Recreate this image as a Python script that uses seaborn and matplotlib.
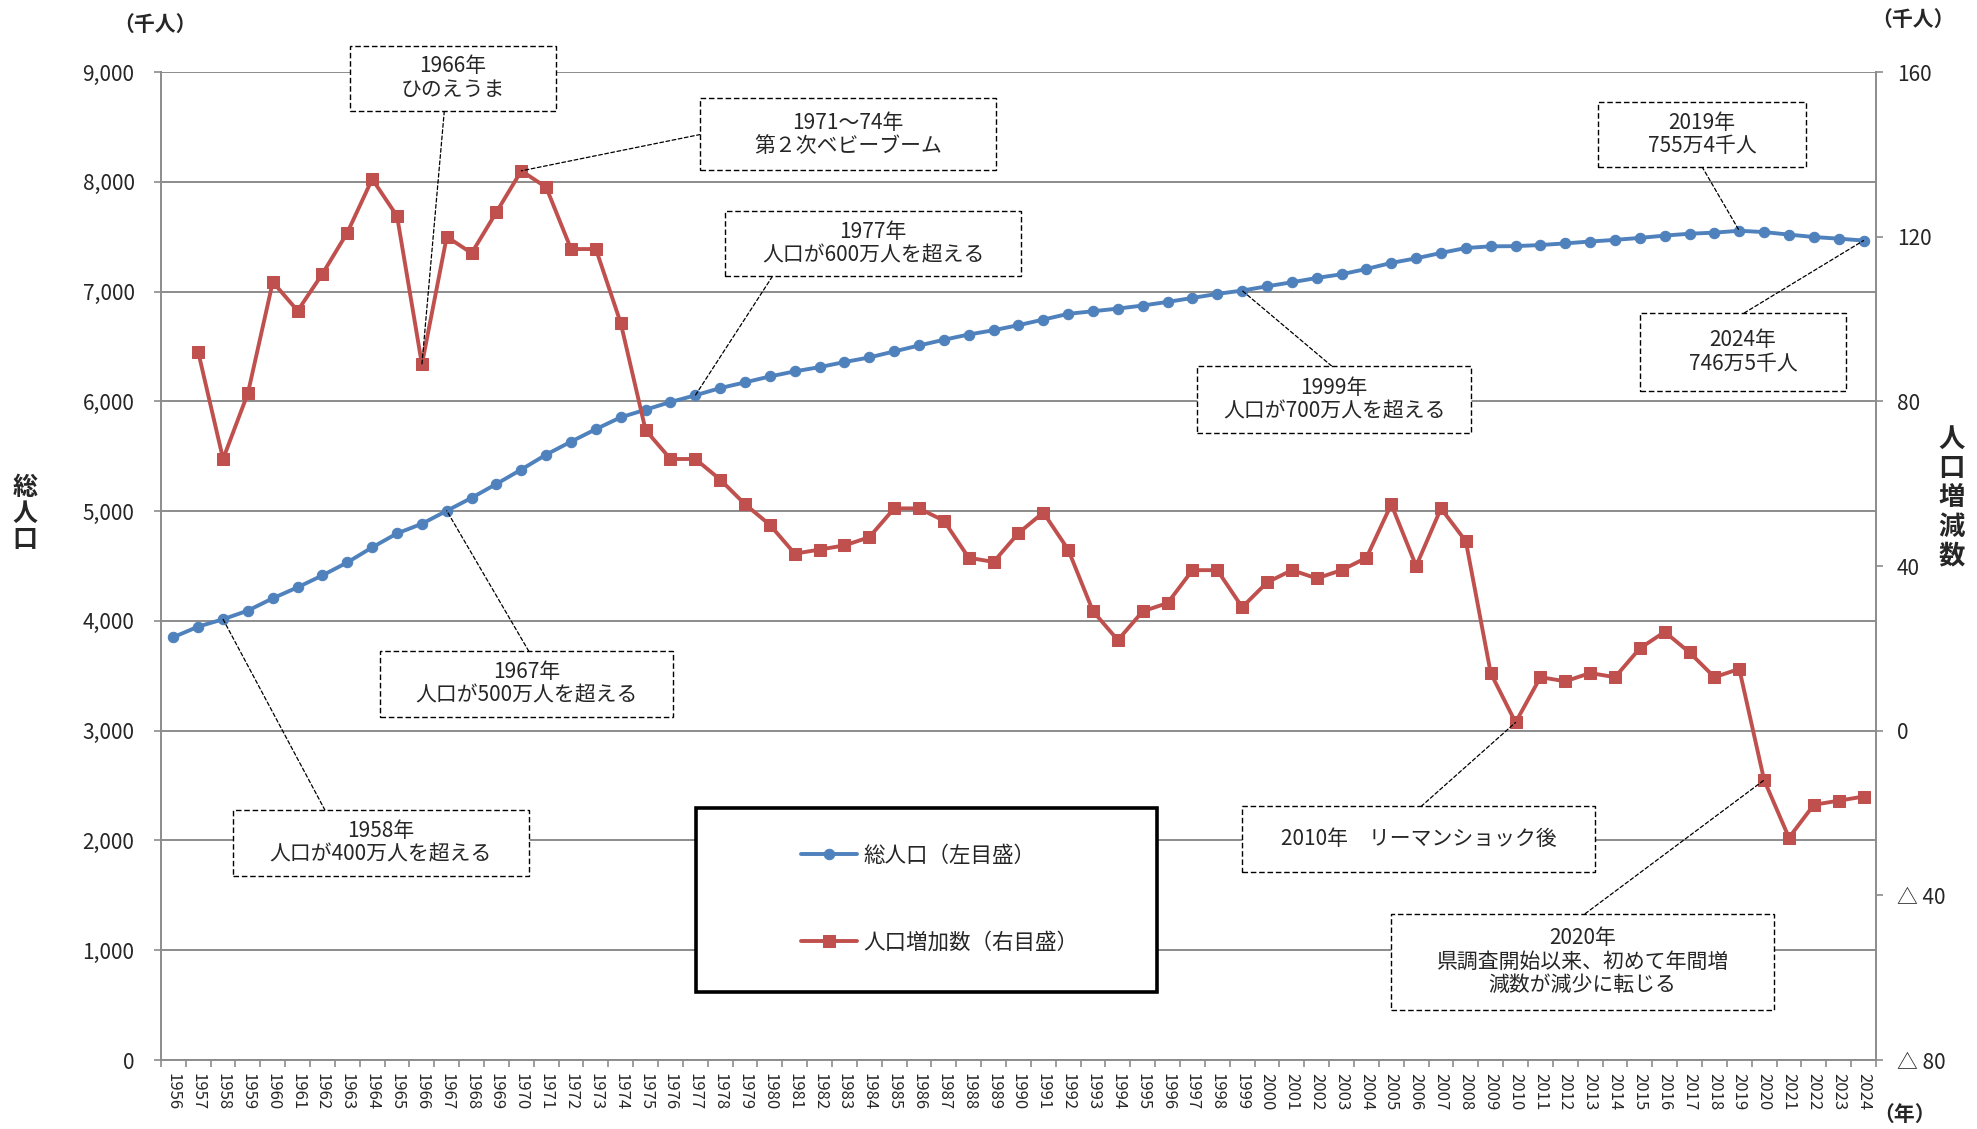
import numpy as np
import pandas as pd
import matplotlib
matplotlib.use('Agg')
import matplotlib.pyplot as plt
import seaborn as sns
from matplotlib.patches import Rectangle
from matplotlib.ticker import FuncFormatter

# =====================================
# DATA
# =====================================

years = list(range(1956, 2025))

# 総人口 (千人, 左目盛)
total_pop = [
    3852, 3948, 4015, 4094, 4206, 4306, 4415, 4533, 4670, 4797,
    4885, 5003, 5121, 5248, 5379, 5515, 5633, 5747, 5855,
    5924, 5994, 6055, 6121, 6173, 6227, 6273, 6312, 6358, 6400,
    6455, 6509, 6561, 6609, 6648, 6694, 6745, 6797, 6821, 6845,
    6873, 6906, 6942, 6979, 7009, 7048, 7085, 7124, 7158, 7206,
    7261, 7303, 7352, 7397, 7412, 7414, 7424, 7439, 7456, 7471,
    7489, 7510, 7527, 7537, 7554, 7542, 7519, 7497, 7482, 7465,
]

# 人口増加数 (千人, 右目盛) 1956 はデータなし
pop_change = [
    np.nan, 92, 66, 82, 109, 102, 111, 121, 134, 125,
    89, 120, 116, 126, 136, 132, 117, 117, 99,
    73, 66, 66, 61, 55, 50, 43, 44, 45, 47,
    54, 54, 51, 42, 41, 48, 53, 44, 29, 22,
    29, 31, 39, 39, 30, 36, 39, 37, 39, 42,
    55, 40, 54, 46, 14, 2, 13, 12, 14, 13,
    20, 24, 19, 13, 15, -12, -26, -18, -17, -16,
]

series_labels = ['総人口（左目盛）', '人口増加数（右目盛）']

# text, box (x0, x1, y0, y1) in left-axis data, leader start, target year, series
notes = [
    ('1966年\nひのえうま', (7.1, 15.4, 8644, 9241), (10.9, 8644), 1966, 'change'),
    ('1971～74年\n第２次ベビーブーム', (21.2, 33.1, 8103, 8759), (21.2, 8431), 1970, 'change'),
    ('1977年\n人口が600万人を超える', (22.2, 34.1, 7138, 7736), (24.1, 7138), 1977, 'total'),
    ('2019年\n755万4千人', (57.3, 65.7, 8138, 8724), (61.5, 8138), 2019, 'total'),
    ('2024年\n746万5千人', (59.0, 67.3, 6092, 6805), (63.2, 6805), 2024, 'total'),
    ('1999年\n人口が700万人を超える', (41.2, 52.2, 5713, 6322), (46.6, 6322), 1999, 'total'),
    ('1967年\n人口が500万人を超える', (8.3, 20.1, 3126, 3724), (14.3, 3724), 1967, 'total'),
    ('1958年\n人口が400万人を超える', (2.4, 14.3, 1678, 2276), (6.1, 2276), 1958, 'total'),
    ('2010年　リーマンショック後', (43.0, 57.2, 1713, 2310), (50.2, 2310), 2010, 'change'),
    ('2020年\n県調査開始以来、初めて年間増\n減数が減少に転じる', (49.0, 64.4, 460, 1333), (56.8, 1333), 2020, 'change'),
]

BLUE = '#4F81BD'
RED = '#C0504D'
GRID = '#8C8C8C'

df = pd.DataFrame({'pos': np.arange(len(years)), 'total': total_pop, 'change': pop_change})

# =====================================
# PLOT
# =====================================

sns.set_style('white')
plt.rcParams['font.family'] = ['Noto Sans CJK JP', 'DejaVu Sans']

fig = plt.figure(figsize=(19.77, 11.29), dpi=100)
ax = fig.add_axes([0.0814, 0.0611, 0.8675, 0.8751])
ax2 = ax.twinx()

sns.lineplot(data=df, x='pos', y='total', ax=ax, color=BLUE, linewidth=2.8,
             marker='o', markersize=7.5, markeredgecolor=BLUE, legend=False)
sns.lineplot(data=df.dropna(), x='pos', y='change', ax=ax2, color=RED, linewidth=2.8,
             marker='s', markersize=8, markeredgecolor=RED, legend=False)

ax.set_xlim(-0.5, len(years) - 0.5)
ax.set_ylim(0, 9000)
ax2.set_ylim(-80, 160)
ax.set_xlabel('')
ax.set_ylabel('')
ax2.set_ylabel('')

# x axis
ax.set_xticks(df['pos'])
ax.set_xticklabels([str(y) for y in years], rotation=-90, fontsize=12)
ax.set_xticks(np.arange(-0.5, len(years), 1), minor=True)
ax.tick_params(axis='x', which='major', length=0, pad=9)
ax.tick_params(axis='x', which='minor', length=5, width=1.2, color=GRID, bottom=True)

# left axis
ax.set_yticks(range(0, 9001, 1000))
ax.yaxis.set_major_formatter(FuncFormatter(lambda v, p: f'{int(v):,}'))
ax.tick_params(axis='y', length=5, width=1.2, color=GRID, pad=14, labelsize=15, left=True)
ax.grid(axis='y', color=GRID, linewidth=1.4)
ax.grid(axis='x', visible=False)
ax.set_axisbelow(True)

# right axis
ax2.set_yticks(range(-80, 161, 40))
ax2.yaxis.set_major_formatter(
    FuncFormatter(lambda v, p: f'△ {abs(int(v))}' if v < 0 else f'{int(v)}'))
ax2.tick_params(axis='y', length=5, width=1.2, color=GRID, pad=10, labelsize=15, right=True)
ax2.grid(False)

for a in (ax, ax2):
    for s in a.spines.values():
        s.set_visible(False)
ax.spines['left'].set_visible(True)
ax.spines['bottom'].set_visible(True)
ax2.spines['right'].set_visible(True)
for s in (ax.spines['left'], ax.spines['bottom'], ax2.spines['right']):
    s.set_color(GRID)
    s.set_linewidth(1.4)

# =====================================
# ANNOTATIONS
# =====================================

for text, (x0, x1, y0, y1), start, year, which in notes:
    i = years.index(year)
    if which == 'total':
        target, trans = (i, total_pop[i]), ax.transData
    else:
        target, trans = (i, pop_change[i]), ax2.transData
    ax2.annotate('', xy=target, xycoords=trans, xytext=start, textcoords=ax.transData,
                 arrowprops=dict(arrowstyle='-', color='black', lw=0.9,
                                 linestyle=(0, (3, 2)), shrinkA=0, shrinkB=0),
                 annotation_clip=False, zorder=4)
    box = Rectangle((x0, y0), x1 - x0, y1 - y0, transform=ax.transData,
                    facecolor='white', edgecolor='black', linewidth=1.0,
                    linestyle=(0, (4, 2)), clip_on=False, zorder=5)
    ax2.add_patch(box)
    ax2.text((x0 + x1) / 2, (y0 + y1) / 2, text, transform=ax.transData,
             ha='center', va='center', fontsize=15, linespacing=1.1,
             zorder=6, clip_on=False)

# legend
leg_box = Rectangle((0.312, 0.069), 0.269, 0.186, transform=ax2.transAxes,
                    facecolor='white', edgecolor='black', linewidth=2.6, zorder=5)
ax2.add_patch(leg_box)
leg = ax2.legend(handles=[ax.lines[0], ax2.lines[0]], labels=series_labels,
                 loc='center left', bbox_to_anchor=(0.367, 0.163), frameon=False,
                 fontsize=15.5, handlelength=2.6, handletextpad=0.3, labelspacing=3.0,
                 borderpad=0)
leg.set_zorder(7)

# axis titles
fig.text(0.0126, 0.545, '総\n人\n口', ha='center', va='center',
         fontsize=18, fontweight='bold', linespacing=1.1)
fig.text(0.987, 0.559, '人\n口\n増\n減\n数', ha='center', va='center',
         fontsize=19, fontweight='bold', linespacing=1.1)
fig.text(0.0784, 0.978, '（千人）', ha='center', va='center', fontsize=15, fontweight='bold')
fig.text(0.9676, 0.983, '（千人）', ha='center', va='center', fontsize=15, fontweight='bold')
fig.text(0.9636, 0.0125, '（年）', ha='center', va='center', fontsize=15, fontweight='bold')

fig.savefig('out.png', dpi=100)
